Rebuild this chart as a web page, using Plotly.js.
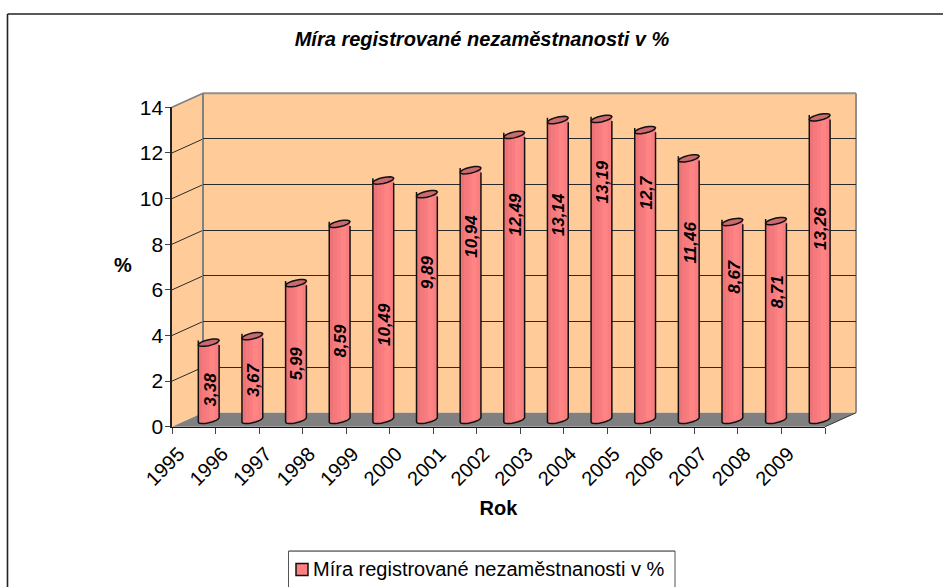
<!DOCTYPE html>
<html><head><meta charset="utf-8">
<script src="https://cdn.plot.ly/plotly-3.0.1.min.js"></script>
<style>html,body{margin:0;padding:0;background:#fff;overflow:hidden}</style>
</head><body><div id="chart" style="width:943px;height:588px"></div>
<script>
const years = ['1995','1996','1997','1998','1999','2000','2001','2002','2003','2004','2005','2006','2007','2008','2009'];
const rates = [3.38,3.67,5.99,8.59,10.49,9.89,10.94,12.49,13.14,13.19,12.7,11.46,8.67,8.71,13.26];
const rateLabels = ['3,38','3,67','5,99','8,59','10,49','9,89','10,94','12,49','13,14','13,19','12,7','11,46','8,67','8,71','13,26'];
const labelHeights = [1.33,1.77,2.49,3.47,4.18,6.48,8.06,9.0,8.98,10.44,9.98,7.78,6.3,5.6,8.41];
const yTicks = [0,2,4,6,8,10,12,14];
const seriesName = 'Míra registrované nezaměstnanosti v %';

const W = 943, H = 588;
const X = p => p / W, Y = p => 1 - p / H;
const font = 'Liberation Sans, Arial, sans-serif';

// geometry of the box
const front = {l:172, r:825, b:427.5, t:107.5};
const depth = {x:31, y:-14};
const yFront = v => front.b - (front.b - front.t) * v / 14;

// bar subplot scale
const barLeft = 186.9, barRight = 841.5, barZero = 420.5, barUnit = 22.85;
const xUnit = (barRight - barLeft) / 15;
const halfW = 10.4 / xUnit;
const fullW = halfW * 2;

const strips = [
  {from:0, to:1, color:'#FF8080'},
  {from:0, to:0.2, color:'#EC7478'},
  {from:0.2, to:0.4, color:'#F3797D'},
  {from:0.4, to:0.55, color:'#F97D80'},
  {from:0.55, to:0.8, color:'#FF8585'},
  {from:0.8, to:1, color:'#FA7E80'}
];
const idx = years.map((_, i) => i);

const traces = [];
// back wall subplot (holds the gridlines)
traces.push({type:'scatter', mode:'none', x:[0,1], y:[0,14], xaxis:'x', yaxis:'y', showlegend:false, hoverinfo:'skip'});
// cylinder bodies
strips.forEach(s => traces.push({
  type:'bar', x:idx, y:rates, xaxis:'x2', yaxis:'y2', showlegend:false, hoverinfo:'skip',
  width:fullW * (s.to - s.from), offset:-halfW + fullW * s.from,
  marker:{color:s.color, line:{width:0}}
}));
// legend entry
traces.push({
  type:'bar', x:[null], y:[null], xaxis:'x2', yaxis:'y2', name:seriesName, showlegend:true, hoverinfo:'skip',
  marker:{color:'#FF8080', line:{width:1.5, color:'#111'}}
});
// front axes
traces.push({type:'scatter', mode:'none', x:years, y:rates, xaxis:'x3', yaxis:'y3', showlegend:false, hoverinfo:'skip'});

const shapes = [];
const poly = (pts, fill, lc, lw) => shapes.push({
  type:'path', xref:'paper', yref:'paper', layer:'below',
  path:'M' + pts.map(p => X(p[0]) + ',' + Y(p[1])).join('L') + 'Z',
  fillcolor:fill, line:{color:lc || fill, width:lw === undefined ? 0 : lw}
});
const seg = (x0, y0, x1, y1, c, w, layer) => shapes.push({
  type:'line', xref:'paper', yref:'paper', layer:layer || 'below',
  x0:X(x0), y0:Y(y0), x1:X(x1), y1:Y(y1), line:{color:c, width:w}
});

const dx = depth.x, dy = depth.y;
// frame of the chart area (runs off the picture on the right and bottom)
seg(7.5, 14, 943, 14, '#222', 1.6, 'above');
seg(7.5, 14, 7.5, 588, '#222', 1.6, 'above');
// walls and floor
poly([[front.l+dx,front.t+dy],[front.r+dx,front.t+dy],[front.r+dx,front.b+dy],[front.l+dx,front.b+dy]], '#FFCC99');
poly([[front.l,front.t],[front.l+dx,front.t+dy],[front.l+dx,front.b+dy],[front.l,front.b]], '#FFCC99');
poly([[front.l,front.b],[front.r,front.b],[front.r+dx,front.b+dy],[front.l+dx,front.b+dy]], '#808080');
// slanted gridlines on the side wall
yTicks.slice(1,-1).forEach(v => seg(front.l, yFront(v), front.l+dx, yFront(v)+dy, '#2a2a2a', 1));
// edges of the walls
seg(front.l, front.t, front.l+dx, front.t+dy, '#808080', 1.6);
seg(front.l+dx, front.t+dy, front.r+dx, front.t+dy, '#909090', 2);
seg(front.r+dx, front.t+dy, front.r+dx, front.b+dy, '#909090', 2);
seg(front.l+dx, front.t+dy, front.l+dx, front.b+dy, '#808080', 2);
seg(front.r, front.b, front.r+dx, front.b+dy, '#333', 1);

// cylinder ends, in bar subplot units
const rise = 2.2, bulge = 3, rPx = 10.4;
const ring = (i, v, from, to) => {
  const pts = [];
  for (let k = 0; k <= 16; k++) {
    const t = from + (to - from) * k / 16;
    const px = rPx * Math.cos(t);
    const py = -rise * Math.cos(t) - bulge * Math.sin(t);
    pts.push((i + px / xUnit) + ',' + (v - py / barUnit));
  }
  return pts;
};
rates.forEach((v, i) => {
  // rounded foot, under the body
  shapes.push({type:'path', xref:'x2', yref:'y2', layer:'below',
    path:'M' + ring(i, 0, 0, 2*Math.PI).join('L') + 'Z',
    fillcolor:'#F47A7E', line:{width:0}});
  // side and bottom outline
  const left = (i - rPx/xUnit) + ',' + (v + rise/barUnit);
  const right = (i + rPx/xUnit) + ',' + (v - rise/barUnit);
  shapes.push({type:'path', xref:'x2', yref:'y2', layer:'above',
    path:'M' + left + 'L' + ring(i, 0, Math.PI, 2*Math.PI).join('L') + 'L' + right,
    fillcolor:'rgba(0,0,0,0)', line:{color:'#111', width:1.5}});
  // cap
  shapes.push({type:'path', xref:'x2', yref:'y2', layer:'above',
    path:'M' + ring(i, v, 0, 2*Math.PI).join('L') + 'Z',
    fillcolor:'#C96A6E', line:{color:'#111', width:1.5}});
});
// legend box (runs off the bottom of the picture)
seg(288.5, 552, 675, 552, '#222', 1);
seg(288.5, 552, 288.5, 588, '#555', 1);
seg(675, 552, 675, 588, '#555', 1);

const annotations = rateLabels.map((t, i) => ({
  text:t, x:i + 0.03, y:labelHeights[i], xref:'x2', yref:'y2', showarrow:false, textangle:-90,
  xanchor:'center', yanchor:'middle',
  font:{family:font, size:17, color:'#000', style:'italic', weight:'bold'}
}));
annotations.push({text:'%', x:X(123), y:Y(265), xref:'paper', yref:'paper', showarrow:false,
  xanchor:'center', yanchor:'middle', font:{family:font, size:20, color:'#000', weight:'bold'}});

const layout = {
  width:W, height:H, autosize:false,
  margin:{l:0, r:0, t:0, b:0, pad:0},
  paper_bgcolor:'#fff', plot_bgcolor:'rgba(0,0,0,0)',
  barmode:'overlay', hovermode:false,
  title:{text:'Míra registrované nezaměstnanosti v %', x:X(482), y:Y(39), xanchor:'center', yanchor:'middle', xref:'paper', yref:'paper',
    font:{family:font, size:20, color:'#000', style:'italic', weight:'bold'}},
  // back wall
  xaxis:{domain:[X(front.l+dx), X(front.r+dx)], range:[0,1], visible:false, anchor:'y'},
  yaxis:{domain:[Y(front.b+dy), Y(front.t+dy)], range:[0,14], tickvals:yTicks.slice(1,-1), showticklabels:false, ticks:'',
    showgrid:true, gridcolor:'#2a2a2a', gridwidth:1, zeroline:false, showline:false, anchor:'x'},
  // cylinders
  xaxis2:{domain:[X(barLeft), X(barRight)], range:[-0.5,14.5], visible:false, anchor:'y2'},
  yaxis2:{domain:[Y(barZero + barUnit), Y(barZero - 14.5*barUnit)], range:[-1,14.5], visible:false, anchor:'x2'},
  // front axes
  xaxis3:{domain:[X(front.l), X(front.r)], type:'category', categoryorder:'array', categoryarray:years, anchor:'y3',
    range:[-0.5,14.5],
    tickmode:'array', tickvals:years, ticktext:years, tickson:'boundaries', ticks:'outside', ticklen:6, tickcolor:'#444', tickwidth:1,
    ticklabelstandoff:6, ticklabelshift:-15,
    tickangle:-45, tickfont:{family:font, size:20, color:'#000'}, showgrid:false, zeroline:false,
    showline:true, linecolor:'#111', linewidth:1.6,
    title:{text:'Rok', font:{family:font, size:20, color:'#000', weight:'bold'}, standoff:12}},
  yaxis3:{domain:[Y(front.b), Y(front.t)], range:[0,14], anchor:'x3', tickmode:'array', tickvals:yTicks, ticks:'outside', ticklen:5,
    ticklabelstandoff:-2,
    tickcolor:'#444', tickwidth:1, tickfont:{family:font, size:21, color:'#000'}, showgrid:false, zeroline:false,
    showline:true, linecolor:'#222', linewidth:1.6},
  showlegend:true,
  legend:{x:X(273), y:Y(569), xanchor:'left', yanchor:'middle', bgcolor:'rgba(0,0,0,0)', borderwidth:0,
    font:{family:font, size:20, color:'#000'}},
  shapes:shapes, annotations:annotations
};
Plotly.newPlot('chart', traces, layout, {displayModeBar:false, staticPlot:true}).then(() => {
  // the reference sets the swatch closer to the legend text
  document.querySelectorAll('#chart .legendsymbols').forEach(g => g.setAttribute('transform', 'translate(9,1)'));
});
</script></body></html>
